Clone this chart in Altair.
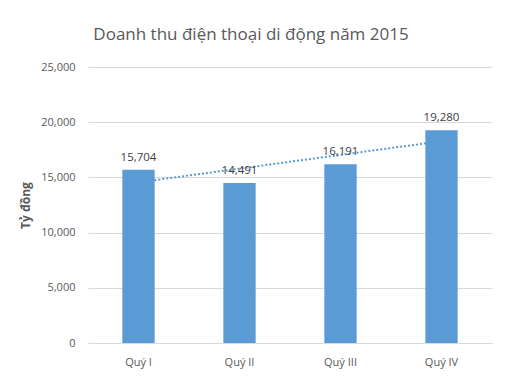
import altair as alt
import pandas as pd

categories = ["Quý I", "Quý II", "Quý III", "Quý IV"]
index = [1, 2, 3, 4]
values = [15704, 14491, 16191, 19280]
y_ticks = [0, 5000, 10000, 15000, 20000, 25000]

df = pd.DataFrame({"cat": categories, "idx": index, "value": values})

FONT = "Open Sans"
GRAY = "#595959"
BLUE = "#5b9bd5"

x_enc = alt.X(
    "cat:N",
    sort=categories,
    scale=alt.Scale(paddingInner=0.68, paddingOuter=0.34),
    axis=alt.Axis(title=None, labelAngle=0, ticks=False, domainColor="#d9d9d9",
                  labelColor=GRAY, labelFontSize=11, labelFont=FONT, labelPadding=13),
)
y_enc = alt.Y(
    "value:Q",
    scale=alt.Scale(domain=[0, 25000], nice=False),
    axis=alt.Axis(title="Tỷ đồng", values=y_ticks, format=",.0f", ticks=False, domain=False,
                  gridColor="#d9d9d9", labelColor=GRAY, labelFontSize=11, labelFont=FONT,
                  labelPadding=13, titleColor=GRAY, titleFont=FONT, titleFontSize=12,
                  titleFontWeight="bold", titlePadding=8),
)

base = alt.Chart(df)

trend = base.transform_regression("idx", "value").transform_calculate(
    cat="['Quý I','Quý II','Quý III','Quý IV'][datum.idx - 1]"
).mark_line(color=BLUE, strokeWidth=2, strokeDash=[2, 2]).encode(x=x_enc, y=y_enc)

bars = base.mark_bar(color=BLUE).encode(x=x_enc, y=y_enc)

labels = base.mark_text(baseline="bottom", dy=-7, fontSize=11.5, font=FONT, color="#404040").encode(
    x=x_enc, y=y_enc, text=alt.Text("value:Q", format=",")
)

chart = alt.layer(bars, trend, labels).properties(
    width=404,
    height=276,
    autosize=alt.AutoSizeParams(type="none"),
    padding={"left": 80, "top": 59, "right": 12, "bottom": 33},
    background="white",
    title=alt.TitleParams(
        "Doanh thu điện thoại di động năm 2015",
        font=FONT, fontSize=17, fontWeight="normal", color=GRAY,
        anchor="middle", dx=-39, offset=17,
    ),
).configure_view(stroke=None)

chart.save("out.html", embed_options={"renderer": "svg", "actions": False})
